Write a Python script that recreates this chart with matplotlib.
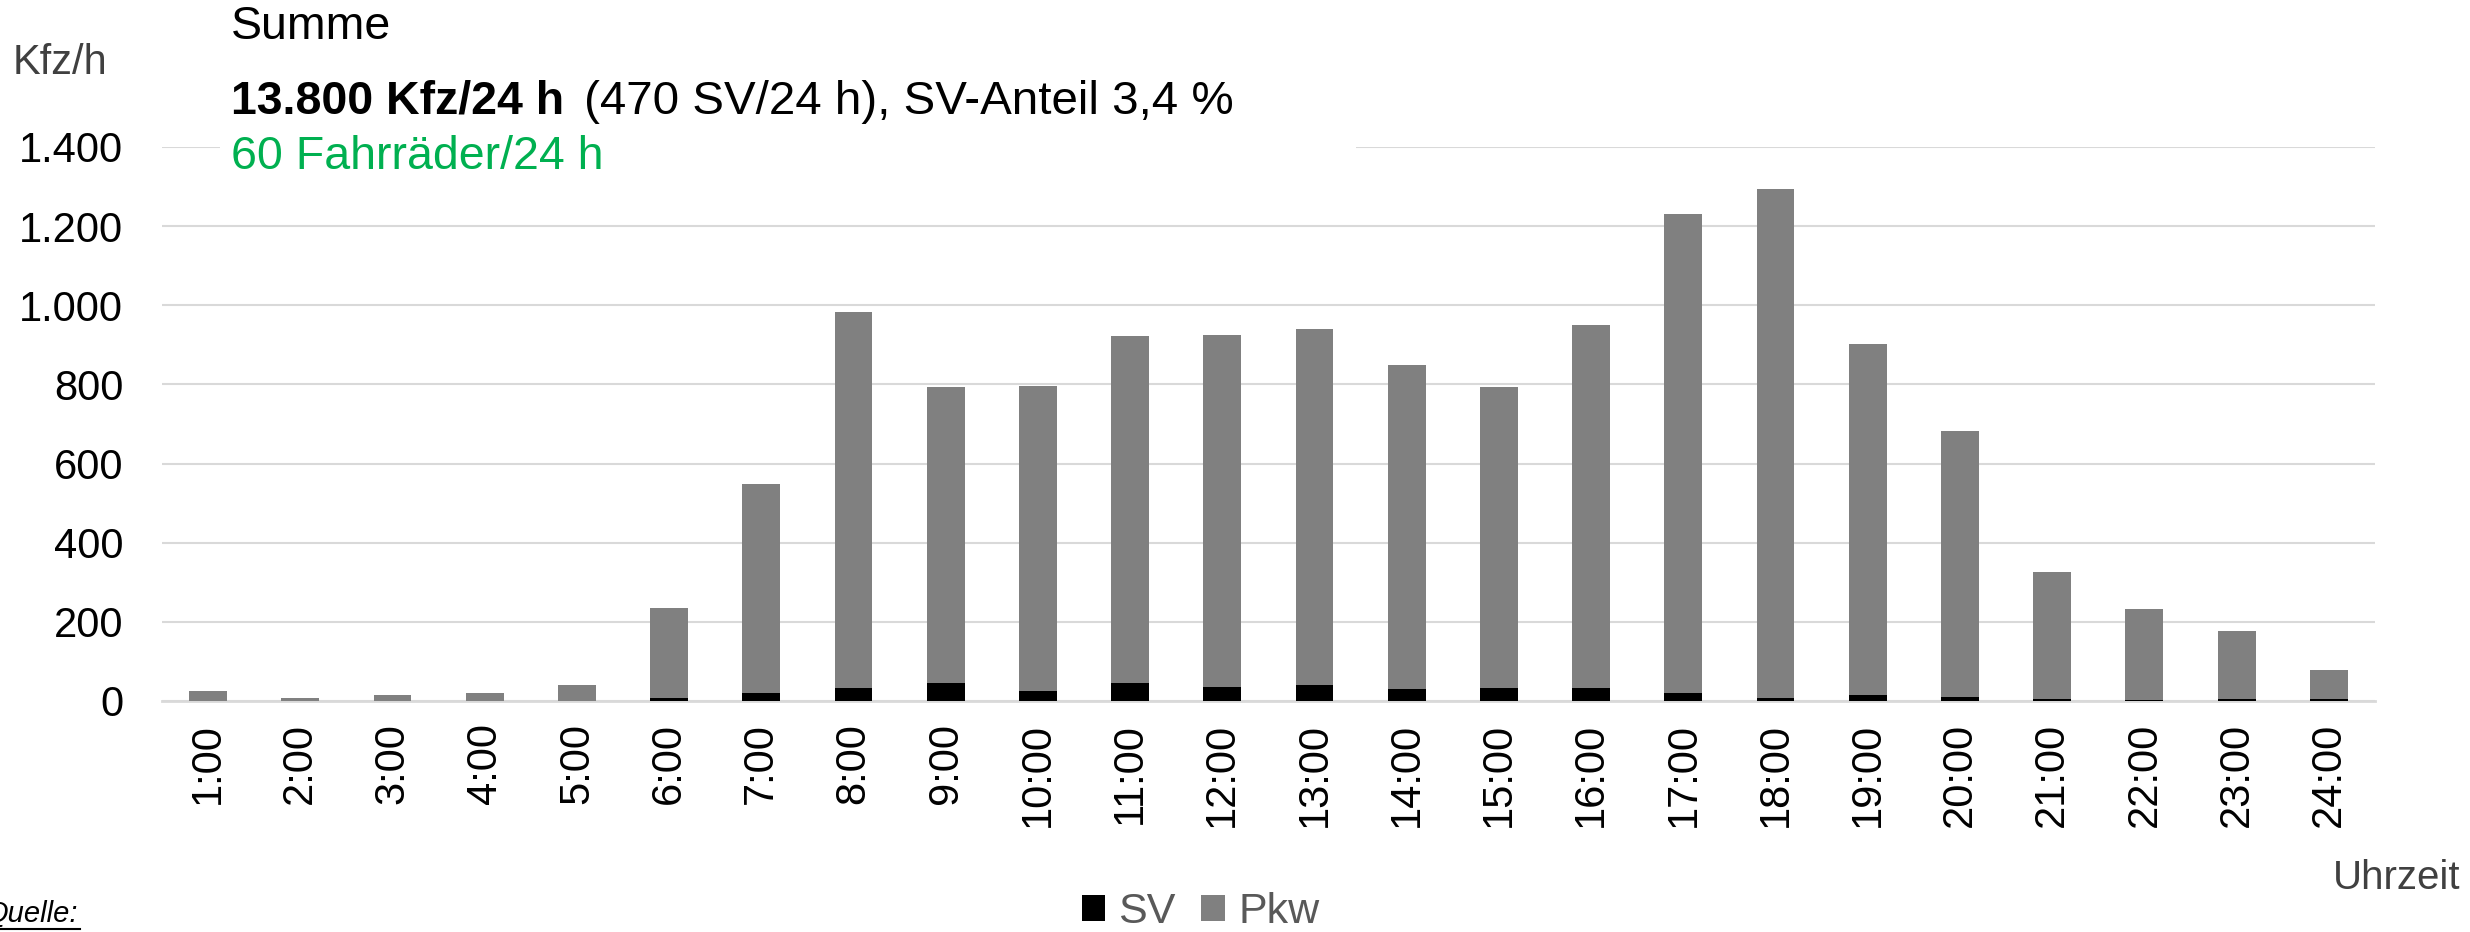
import numpy as np
import matplotlib
matplotlib.use("Agg")
from matplotlib import pyplot as plt

plt.rcParams['font.family'] = ['Liberation Sans', 'DejaVu Sans']

# hourly counts
hours = ["%d:00" % h for h in range(1, 25)]
kfz = [25, 8, 15, 20, 40, 235, 548, 983, 793, 797, 923, 925,
       940, 850, 793, 950, 1230, 1293, 902, 683, 327, 232, 177, 78]
sv = [0, 0, 0, 0, 0, 8, 21, 34, 46, 24, 46, 36,
      41, 29, 34, 32, 21, 8, 15, 11, 4, 2, 4, 5]
pkw = [k - s for k, s in zip(kfz, sv)]

x = np.arange(1, 25)

fig = plt.figure(figsize=(24.7, 9.32), dpi=100)
ax = fig.add_axes([0.0656, 0.2479, 0.8959, 0.5944])

ax.bar(x, sv, width=0.41, color="black", label="SV", zorder=3)
ax.bar(x, pkw, width=0.41, bottom=sv, color="#808080", label="Pkw", zorder=3)

ax.set_xlim(0.5, 24.5)
ax.set_ylim(0, 1400)
ax.set_yticks(range(0, 1401, 200))
ax.set_yticklabels(["0", "200", "400", "600", "800", "1.000", "1.200", "1.400"])
ax.set_xticks(x)
ax.set_xticklabels(hours, rotation=90)
ax.tick_params(axis="both", length=0, labelsize=30)
ax.tick_params(axis="y", pad=28)
ax.tick_params(axis="x", pad=16)
ax.grid(axis="y", color="#d9d9d9", linewidth=1.5, zorder=0)
for s in ["top", "right", "left"]:
    ax.spines[s].set_visible(False)
ax.spines["bottom"].set_color("#d9d9d9")
ax.spines["bottom"].set_linewidth(2)

# header block
fig.text(0.005, 0.932, "Kfz/h", fontsize=30, color="#404040", va="center")
fig.text(0.0935, 0.971, "Summe", fontsize=33.5, va="center")
fig.text(0.0935, 0.891, "13.800 Kfz/24 h", fontsize=33.5, fontweight="bold", va="center")
fig.text(0.2365, 0.891, "(470 SV/24 h), SV-Anteil 3,4 %", fontsize=34.2, va="center")
fig.patches.append(plt.Rectangle((0.089, 0.82), 0.46, 0.09, transform=fig.transFigure,
                                 facecolor="white", edgecolor="none", zorder=1))
fig.text(0.0935, 0.832, "60 Fahrräder/24 h", fontsize=33.5, color="#00b050", va="center")

fig.text(0.996, 0.058, "Uhrzeit", fontsize=29, color="#404040", ha="right", va="center")
fig.text(-0.006, 0.019, "Quelle:", fontsize=21, style="italic", va="center")
fig.add_artist(plt.Line2D([0, 0.0324], [0.003, 0.003], color="black", linewidth=1.5))

leg = fig.legend(loc="center", bbox_to_anchor=(0.486, 0.021), ncol=2, frameon=False,
                 fontsize=31, handlelength=0.55, handleheight=0.55, handletextpad=0.3,
                 columnspacing=0.6, borderpad=0.1)
for txt in leg.get_texts():
    txt.set_color("#595959")

fig.savefig("out.png", dpi=100)
